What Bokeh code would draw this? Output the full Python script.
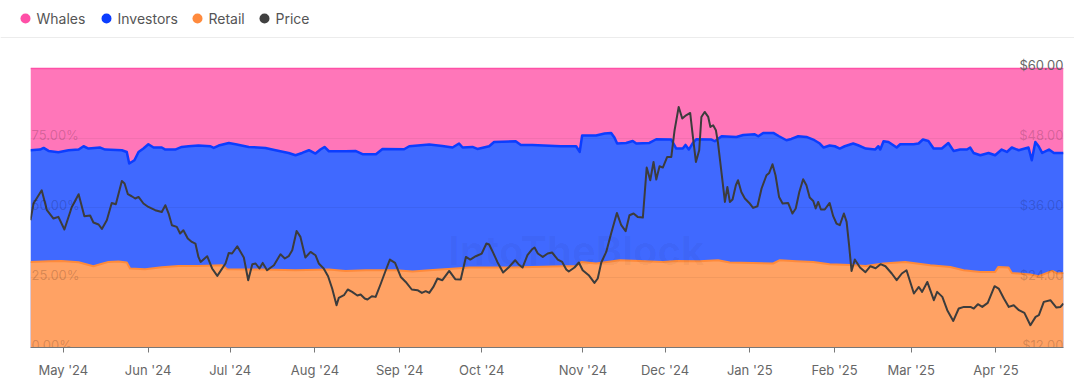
from bokeh.plotting import figure
from bokeh.models import Range1d, FixedTicker, Label
from bokeh.layouts import column
from bokeh.embed import file_html
from bokeh.resources import INLINE
from bokeh.core.properties import value

FONT = "Inter"

# ---------------- data ----------------
series_names = ["Whales", "Investors", "Retail", "Price"]
series_colors = ["#ff4fa7", "#0b3dff", "#ff8a3d", "#404040"]

# x axis: day index since start of window (19 Apr 2024)
month_tick_days = [12, 43, 73, 104, 135, 165, 202, 232, 263, 294, 322, 353]
month_labels = ["May '24", "Jun '24", "Jul '24", "Aug '24", "Sep '24", "Oct '24",
                "Nov '24", "Dec '24", "Jan '25", "Feb '25", "Mar '25", "Apr '25"]
last_day = 377.7

pct_ticks = [0, 25, 50, 75]
price_ticks = [12, 24, 36, 48, 60]

price_days = [0.0, 1.1, 4.1, 6.0, 8.4, 10.2, 12.4, 15.1, 17.6, 19.7, 21.8, 23.0, 24.9, 26.1,
              27.9, 29.7, 31.2, 33.4, 34.4, 35.6, 37.0, 38.3, 39.5, 41.3, 43.1, 45.6, 48.0,
              49.3, 50.5, 51.7, 53.5, 54.7, 55.9, 57.5, 59.0, 60.3, 61.4, 62.2, 64.6, 66.4,
              68.3, 71.3, 72.5, 73.7, 75.6, 78.0, 79.6, 81.1, 82.3, 83.7, 84.9, 86.5, 89.0,
              91.4, 93.0, 94.4, 95.7, 97.3, 98.7, 100.5, 102.4, 104.2, 105.4, 107.2, 108.8,
              110.3, 111.9, 112.7, 114.6, 116.0, 117.6, 119.5, 120.7, 122.2, 123.2, 124.8,
              126.2, 128.1, 129.9, 131.4, 133.3, 135.4, 137.2, 139.4, 141.5, 143.1, 144.5,
              145.8, 147.3, 148.8, 150.6, 153.1, 155.3, 157.3, 159.2, 160.8, 162.8, 165.0,
              166.7, 167.7, 169.2, 170.7, 172.8, 175.0, 177.2, 178.4, 179.9, 181.7, 183.3,
              184.3, 185.5, 187.3, 189.1, 190.7, 192.8, 194.4, 195.9, 196.8, 198.9, 200.5,
              201.9, 204.1, 206.2, 207.4, 208.7, 210.5, 212.3, 214.4, 216.0, 217.6, 219.0,
              220.5, 222.0, 223.9, 225.3, 226.6, 227.8, 228.8, 230.0, 231.2, 232.8, 234.3,
              235.5, 237.0, 238.3, 239.7, 241.2, 242.2, 243.3, 244.5, 245.3, 246.5, 247.8,
              248.6, 249.6, 250.6, 251.4, 252.7, 253.9, 254.8, 255.7, 256.7, 257.9, 258.7,
              259.9, 261.2, 262.8, 264.2, 265.8, 267.3, 269.1, 270.1, 271.3, 272.4, 273.7,
              275.0, 277.0, 278.6, 279.8, 281.1, 282.5, 283.7, 284.9, 286.2, 287.1, 288.0,
              289.0, 290.4, 292.2, 293.5, 294.7, 295.9, 297.4, 298.4, 299.3, 300.2, 301.4,
              303.3, 305.3, 307.1, 309.0, 310.8, 312.6, 314.9, 316.7, 318.6, 320.3, 323.0,
              324.8, 326.0, 327.9, 330.3, 331.5, 333.4, 335.2, 337.4, 339.4, 341.3, 343.7,
              344.9, 346.4, 348.0, 350.0, 352.5, 354.0, 355.9, 357.7, 359.5, 361.4, 363.4,
              365.6, 367.5, 368.7, 370.5, 372.9, 375.1, 376.6, 377.7]
price_usd = [33.88, 36.75, 39.03, 35.60, 34.17, 34.45, 32.28, 36.16, 38.35, 34.57, 34.69, 33.48,
             33.14, 32.38, 33.88, 36.85, 36.63, 40.63, 40.19, 38.35, 38.00, 37.61, 37.88, 36.75,
             36.16, 35.60, 35.30, 36.46, 35.03, 33.02, 32.73, 31.59, 32.16, 30.73, 30.15, 29.87,
             27.57, 26.71, 27.69, 25.58, 24.31, 26.44, 28.26, 28.15, 29.41, 27.47, 23.57, 26.32,
             26.44, 25.58, 26.54, 25.28, 26.14, 28.03, 27.30, 27.69, 28.72, 32.04, 31.01, 27.47,
             28.43, 27.86, 26.44, 25.58, 24.25, 22.14, 19.27, 20.52, 20.99, 21.97, 21.56, 20.94,
             21.11, 20.42, 20.25, 20.82, 20.70, 23.00, 25.28, 27.12, 26.54, 24.13, 23.27, 21.97,
             21.85, 21.38, 21.68, 21.38, 22.41, 23.86, 23.57, 25.16, 23.74, 23.69, 27.57, 27.12,
             27.69, 28.15, 29.87, 29.70, 28.26, 26.71, 24.89, 25.85, 27.00, 26.32, 25.75, 27.86,
             28.84, 29.19, 28.15, 27.57, 28.15, 28.33, 27.12, 26.71, 25.41, 25.06, 25.75, 26.61,
             25.28, 24.43, 23.10, 23.86, 26.61, 28.43, 31.59, 35.13, 33.02, 31.99, 34.74, 35.03,
             34.45, 34.34, 42.93, 40.75, 43.90, 40.87, 43.16, 42.93, 44.76, 44.76, 49.35, 53.35,
             51.36, 51.92, 52.32, 48.19, 43.90, 45.91, 51.63, 52.49, 51.63, 49.91, 50.20, 49.35,
             47.06, 41.90, 37.02, 39.60, 37.02, 37.44, 39.89, 40.75, 38.74, 37.61, 36.85, 35.99,
             36.28, 39.33, 41.61, 42.01, 43.50, 41.61, 37.88, 36.75, 36.85, 35.03, 35.89, 38.74,
             40.92, 39.89, 37.78, 37.19, 35.89, 37.02, 35.72, 35.72, 36.85, 34.57, 33.31, 33.02,
             35.03, 33.59, 29.58, 25.16, 27.12, 25.75, 24.94, 25.97, 25.63, 26.32, 25.97, 24.72,
             23.57, 24.72, 25.28, 21.28, 22.41, 21.56, 23.27, 20.13, 21.56, 20.70, 18.41, 16.57,
             18.70, 18.98, 18.98, 18.70, 19.44, 18.98, 19.67, 22.54, 22.14, 20.42, 18.98, 19.27,
             18.41, 17.95, 15.83, 17.26, 17.55, 19.84, 20.13, 18.87, 18.98, 19.56]

retail_days = [0.0, 6.6, 11.4, 17.6, 23.0, 25.5, 28.5, 32.2, 35.2, 36.4, 41.9, 48.0, 54.1, 61.4,
               70.1, 71.9, 84.7, 96.9, 109.1, 115.2, 122.5, 133.6, 139.7, 145.8, 155.5, 160.4,
               167.7, 176.2, 183.5, 194.6, 199.3, 201.5, 206.8, 215.4, 222.7, 231.2, 236.1,
               244.6, 251.4, 255.7, 271.5, 274.0, 280.1, 286.2, 292.2, 299.6, 305.4, 311.9,
               319.8, 324.1, 329.0, 336.3, 341.2, 347.3, 352.7, 353.9, 357.6, 358.8, 365.5,
               368.6, 373.6, 375.4, 377.7]
retail_pct = [30.65, 30.90, 31.00, 30.54, 29.11, 29.82, 30.65, 30.79, 30.43, 28.28, 28.03, 28.75,
              29.22, 29.22, 29.47, 28.03, 27.93, 27.68, 27.93, 27.43, 27.68, 27.68, 27.21, 27.68,
              28.28, 28.64, 28.64, 28.64, 28.86, 29.11, 29.11, 30.65, 30.08, 31.26, 31.00, 30.65,
              31.00, 30.90, 31.26, 30.43, 30.08, 31.26, 30.90, 30.65, 29.82, 29.57, 29.22, 30.08,
              30.65, 30.08, 29.47, 28.86, 27.68, 27.07, 27.07, 28.86, 28.64, 26.71, 26.14, 25.53,
              27.43, 26.50, 26.71]

whale_days = [0.0, 3.5, 4.8, 6.6, 10.2, 13.9, 17.6, 19.4, 21.2, 25.5, 27.3, 33.4, 35.2, 36.1,
              38.0, 39.5, 41.3, 43.1, 45.0, 48.0, 49.3, 52.9, 55.3, 57.8, 61.4, 65.8, 67.0, 68.8,
              72.5, 75.0, 79.8, 85.9, 89.6, 94.4, 96.9, 99.3, 101.8, 104.2, 106.0, 107.5, 109.1,
              115.2, 118.8, 121.4, 126.3, 128.7, 136.6, 138.5, 145.8, 150.6, 154.3, 156.7, 158.0,
              161.6, 163.4, 167.7, 169.5, 177.4, 179.3, 183.5, 193.8, 199.5, 200.8, 201.7, 206.8,
              209.9, 212.3, 213.5, 214.5, 217.8, 220.2, 221.5, 226.3, 228.8, 234.3, 236.1, 238.5,
              239.5, 240.7, 242.2, 243.5, 249.0, 250.2, 252.7, 258.1, 260.6, 264.8, 266.1, 267.9,
              271.6, 273.7, 276.4, 278.2, 280.7, 283.7, 286.2, 288.6, 290.0, 292.2, 294.1, 295.9,
              297.7, 300.8, 302.6, 305.4, 308.8, 310.0, 310.7, 311.9, 313.7, 315.5, 316.7, 318.0,
              322.9, 324.7, 326.3, 328.3, 330.2, 333.2, 335.6, 337.5, 339.9, 342.4, 343.6, 344.8,
              347.3, 350.3, 352.7, 355.1, 357.0, 358.8, 361.3, 364.9, 366.1, 367.4, 368.6, 369.9,
              372.4, 374.2, 377.7]
whale_pct = [29.36, 29.11, 28.53, 29.61, 30.08, 29.36, 29.11, 27.93, 28.75, 28.39, 29.11, 29.36,
             29.97, 34.12, 32.94, 29.97, 28.75, 27.21, 28.39, 28.39, 29.11, 29.11, 28.18, 27.93,
             27.68, 27.93, 28.53, 27.68, 26.75, 27.21, 28.18, 28.53, 29.36, 30.33, 31.15, 30.33,
             29.36, 30.54, 29.11, 28.18, 29.72, 29.72, 29.61, 30.79, 30.79, 28.89, 29.00, 27.93,
             27.32, 27.82, 28.39, 26.96, 28.39, 28.18, 28.89, 27.93, 26.39, 26.14, 27.46, 27.46,
             27.93, 27.93, 29.97, 24.10, 24.10, 23.38, 23.17, 24.81, 26.96, 26.75, 26.03, 26.96,
             26.75, 25.42, 25.53, 28.75, 28.75, 27.46, 29.11, 26.75, 25.42, 25.53, 26.14, 24.35,
             24.60, 23.88, 23.63, 24.35, 23.17, 23.17, 24.35, 25.78, 25.31, 24.35, 24.60, 25.53,
             26.96, 28.39, 27.68, 27.93, 28.75, 27.93, 26.96, 27.57, 28.75, 29.11, 27.93, 29.11,
             26.14, 26.39, 27.57, 28.39, 27.21, 27.21, 26.96, 25.53, 26.03, 28.75, 28.75, 26.75,
             29.61, 29.11, 29.11, 28.39, 30.33, 31.15, 30.33, 31.15, 29.11, 29.97, 28.39, 29.36,
             28.39, 32.94, 26.39, 27.93, 30.33, 29.11, 30.33, 30.33]

# ---------------- styles ----------------
fill_whales = "#ff76b9"
fill_investors = "#4069ff"
fill_retail = "#ffa264"
line_whales = "#ff4fa7"
line_investors = "#0b3dff"
line_retail = "#ff8a3a"
price_color = "#3c3c3c"
label_color = "#666666"

BL, BR, FW = 30, 11, 1033   # left border, right border, frame width (pixels)
W = BL + FW + BR

# ---------------- legend strip (pixel coordinates of the page) ----------------
leg = figure(width=W, height=38, x_range=Range1d(0, W), y_range=Range1d(0, 38),
             toolbar_location=None, output_backend="svg", x_axis_location=None,
             y_axis_location=None, min_border=0, outline_line_color=None)
leg.frame_align = False
leg.grid.visible = False
dot_x = [25, 106, 197, 264]
leg.scatter(x=dot_x, y=[20] * 4, size=10, color=series_colors, line_color=None)
leg.text(x=[x + 11 for x in dot_x], y=[20] * 4, text=series_names,
         text_font=value(FONT), text_font_size="14px", text_color="#555555",
         text_baseline="middle", text_align="left")
leg.hspan(y=[1.5], line_color="#ececec", line_width=1)

# ---------------- main chart ----------------
y_top = 106
p = figure(frame_width=FW, frame_height=296,
           x_range=Range1d(0, last_day), y_range=Range1d(0, y_top),
           toolbar_location=None, output_backend="svg", y_axis_location=None,
           min_border_left=BL, min_border_right=BR, min_border_top=13, min_border_bottom=37,
           outline_line_color=None)
p.extra_y_ranges = {"price": Range1d(price_ticks[0],
                                     price_ticks[0] + (price_ticks[-1] - price_ticks[0]) * y_top / 100)}
p.xgrid.visible = False
p.ygrid.visible = False

whale_low = [100 - w for w in whale_pct]
p.varea(x=whale_days, y1=whale_low, y2=[100] * len(whale_days), fill_color=fill_whales)
p.varea(x=whale_days, y1=[0] * len(whale_days), y2=whale_low, fill_color=fill_investors)
p.varea(x=retail_days, y1=[0] * len(retail_days), y2=retail_pct, fill_color=fill_retail)

# faint horizontal grid
p.hspan(y=pct_ticks[1:], line_color="#000000", line_alpha=0.05, line_width=1)

wm = Label(x=199.6, y=34.8, text="IntoTheBlock", text_font=FONT, text_font_size="40px",
           text_font_style="bold", text_color="#000000", text_alpha=0.035,
           text_align="center", text_baseline="middle")
p.add_layout(wm)

p.hspan(y=[100], line_color=line_whales, line_width=1.5)
p.line(x=whale_days, y=whale_low, line_color=line_investors, line_width=2.5, line_join="round")
p.line(x=retail_days, y=retail_pct, line_color=line_retail, line_width=2, line_join="round")

p.line(x=price_days, y=price_usd, y_range_name="price", line_color=price_color,
       line_width=2, line_join="round")

# in-plot axis labels
p.text(x=[0] * len(pct_ticks), y=pct_ticks, text=[f"{t:.2f}%" for t in pct_ticks],
       text_font=value(FONT), text_font_size="13px", text_color="#000000", text_alpha=0.18,
       text_align="left", text_baseline="alphabetic", x_offset=1, y_offset=-3)
inner = price_ticks[:-1]
p.text(x=[last_day] * len(inner), y=inner, y_range_name="price",
       text=[f"${t:.2f}" for t in inner],
       text_font=value(FONT), text_font_size="13px", text_color="#000000", text_alpha=0.18,
       text_align="right", text_baseline="alphabetic", y_offset=-3)
top = price_ticks[-1:]
p.text(x=[last_day], y=top, y_range_name="price", text=[f"${t:.2f}" for t in top],
       text_font=value(FONT), text_font_size="13px", text_color=label_color,
       text_align="right", text_baseline="alphabetic", y_offset=-3)

ax = p.xaxis[0]
ax.ticker = FixedTicker(ticks=month_tick_days)
ax.major_label_overrides = dict(zip(month_tick_days, month_labels))
ax.minor_tick_line_color = None
ax.major_tick_in = 0
ax.major_tick_out = 5
ax.axis_line_color = "#777777"
ax.major_tick_line_color = "#777777"
ax.major_label_text_font = FONT
ax.major_label_text_font_size = "13px"
ax.major_label_text_color = label_color
ax.major_label_standoff = 9

layout = column(leg, p, spacing=0)
open("out.html", "w").write(file_html(layout, INLINE))
